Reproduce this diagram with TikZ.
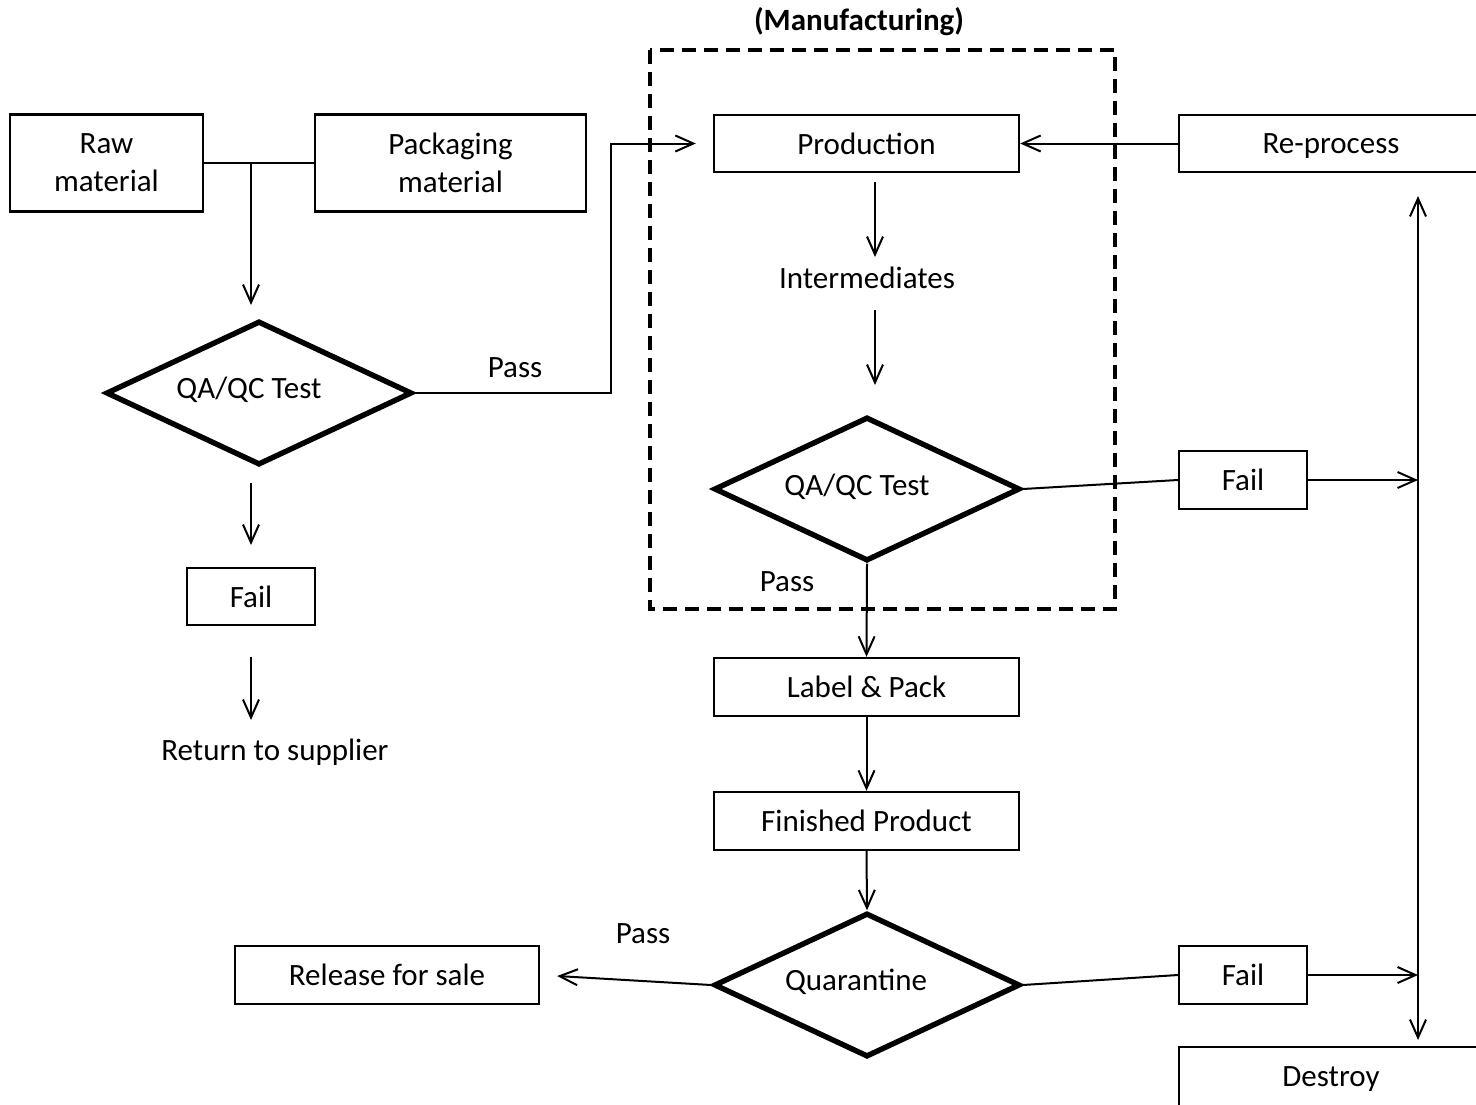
\documentclass[tikz,border=0pt]{standalone}
\usepackage{fontspec}
\setmainfont{Carlito}
\usetikzlibrary{arrows.meta,shapes.geometric}
\begin{document}
\begin{tikzpicture}[x=0.5pt,y=-0.5pt,
  font=\fontsize{15.5}{19}\selectfont,
  box/.style={draw,line width=1.2pt,rectangle,inner sep=0pt,align=center},
  dia/.style={draw,line width=2.7pt,diamond,inner sep=0pt,minimum width=153pt,minimum height=72pt,aspect=2.12},
  txt/.style={inner sep=0pt,align=center},
  arr/.style={line width=1pt,-{Straight Barb[length=9pt,width=8pt,line width=1pt]}},
  ln/.style={line width=1pt},
  frame/.style={draw,line width=2pt,dash pattern=on 7pt off 4pt}
]
\clip (0,0) rectangle (1476,1104);
\fill[white] (0,0) rectangle (1476,1104);

% manufacturing frame
\node[txt,font=\fontsize{15.5}{19}\selectfont\bfseries] (mtitle) at (859,22) {(Manufacturing)};
\draw[frame] (650,50) rectangle (1115,609);

% incoming materials
\node[box,minimum width=96.5pt,minimum height=48.5pt] (raw) at (106.5,163) {Raw\\material};
\node[box,minimum width=135.5pt,minimum height=48.5pt] (pack) at (450.5,163) {Packaging\\material};
\node[dia] (qa1) at (259,393) {};
\node[txt] (qa1t) at (249,390) {QA/QC Test};
\node[box,minimum width=64pt,minimum height=28.5pt] (fail1) at (251,596.5) {Fail};
\node[txt] (ret) at (275,752) {Return to supplier};

% manufacturing steps
\node[box,minimum width=152.5pt,minimum height=28.5pt] (prod) at (866.5,143.5) {Production};
\node[txt] (inter) at (867,278) {Intermediates};
\node[dia] (qa2) at (867,489) {};
\node[txt] (qa2t) at (857,487) {QA/QC Test};
\node[box,minimum width=64pt,minimum height=29pt] (fail2) at (1243,480) {Fail};
\node[box,minimum width=152pt,minimum height=28.5pt,text depth=0pt] (reproc) at (1331,143.5) {Re-process};

% packing and release
\node[box,minimum width=152.5pt,minimum height=29pt] (labpack) at (866.5,687) {Label \& Pack};
\node[box,minimum width=152.5pt,minimum height=29pt] (fin) at (866.5,821) {Finished Product};
\node[dia] (quar) at (867,985) {};
\node[txt] (quart) at (856,982) {Quarantine};
\node[box,minimum width=152pt,minimum height=29pt] (rel) at (387,975) {Release for sale};
\node[box,minimum width=64pt,minimum height=29pt] (fail3) at (1243,975) {Fail};
\node[box,minimum width=152pt,minimum height=30pt,text depth=0pt] (destroy) at (1331,1077) {Destroy};

% pass labels
\node[txt] (pass1) at (515,368) {Pass};
\node[txt] (pass2) at (787,582) {Pass};
\node[txt] (pass3) at (643,934) {Pass};

% free arrow ends
\coordinate (j) at (251,163);
\coordinate (jend) at (251,305);
\coordinate (f1a) at (251,483);
\coordinate (f1b) at (251,545);
\coordinate (r1a) at (251,657);
\coordinate (r1b) at (251,720);
\coordinate (p1) at (875,182);
\coordinate (p2) at (875,257);
\coordinate (i1) at (875,310);
\coordinate (i2) at (875,385);
\coordinate (turn) at (611,393);
\coordinate (vtop) at (1418,196);
\coordinate (vbot) at (1418,1040);
\coordinate (v1) at (1418,480);
\coordinate (v2) at (1418,975);

% connectors
\draw[ln] (raw.east) -- (pack.west);
\draw[arr] (j) -- (jend);
\draw[arr] (f1a) -- (f1b);
\draw[arr] (r1a) -- (r1b);
\draw[arr,shorten >=8.5pt] (qa1.east) -- (turn) |- (prod.west);
\draw[arr] (reproc.west) -- (prod.east);
\draw[arr] (p1) -- (p2);
\draw[arr] (i1) -- (i2);
\draw[ln] (qa2.east) -- (fail2.west);
\draw[arr] (fail2.east) -- (v1);
\draw[arr] (qa2.south) -- (labpack.north);
\draw[arr] (labpack.south) -- (fin.north);
\draw[arr] (fin.south) -- (quar.north);
\draw[arr,shorten >=8.5pt] (quar.west) -- (rel.east);
\draw[ln] (quar.east) -- (fail3.west);
\draw[arr] (fail3.east) -- (v2);
\draw[line width=1pt,{Straight Barb[length=9pt,width=8pt,line width=1pt]}-{Straight Barb[length=9pt,width=8pt,line width=1pt]}] (vtop) -- (vbot);
\end{tikzpicture}
\end{document}
